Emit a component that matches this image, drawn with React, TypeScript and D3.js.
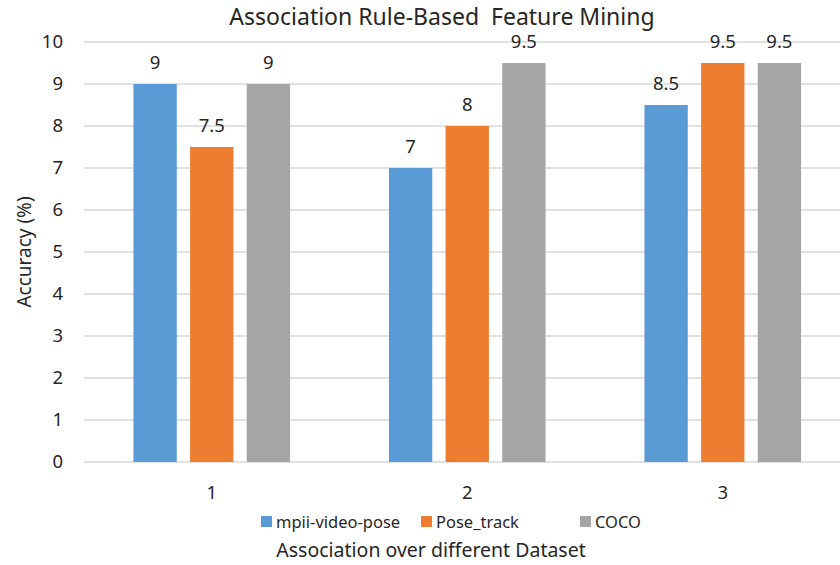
import React, { useEffect, useRef } from 'react';
import * as d3 from 'd3';

const categories = ['1', '2', '3'];
const seriesNames = ['mpii-video-pose', 'Pose_track', 'COCO'];
const seriesColors = ['#5b9bd5', '#ed7d31', '#a5a5a5'];
const mpiiValues = [9, 7, 8.5];
const poseTrackValues = [7.5, 8, 9.5];
const cocoValues = [9, 9.5, 9.5];
const yTicks = [0, 1, 2, 3, 4, 5, 6, 7, 8, 9, 10];

const FONT = '"Noto Sans", "Open Sans", sans-serif';

function App() {
  const ref = useRef<SVGSVGElement>(null);

  useEffect(() => {
    const svg = d3.select(ref.current);
    svg.selectAll('*').remove();

    const width = 840, height = 565;
    const left = 84, right = 850.5, top = 42, bottom = 462;
    const series = [mpiiValues, poseTrackValues, cocoValues];

    const x0 = d3.scaleBand().domain(categories).range([left, right]).paddingInner(0.387).paddingOuter(0.1935);
    const x1 = d3.scaleBand().domain(seriesNames).range([0, x0.bandwidth()]).paddingInner(0.235).paddingOuter(0);
    const y = d3.scaleLinear().domain([0, 10]).range([bottom, top]);

    svg.append('rect').attr('width', width).attr('height', height).attr('fill', '#fff');

    // gridlines
    svg.append('g')
      .selectAll('line')
      .data(yTicks)
      .join('line')
      .attr('x1', left)
      .attr('x2', width)
      .attr('y1', d => y(d))
      .attr('y2', d => y(d))
      .attr('stroke', '#d9d9d9')
      .attr('stroke-width', 1.3);

    // y tick labels
    svg.append('g')
      .selectAll('text')
      .data(yTicks)
      .join('text')
      .attr('x', 63)
      .attr('y', d => y(d))
      .attr('dy', '0.35em')
      .attr('text-anchor', 'end')
      .attr('font-family', FONT)
      .attr('font-size', 18.5)
      .attr('fill', '#262626')
      .text(d => d);

    // bars
    const groups = svg.append('g')
      .selectAll('g')
      .data(categories)
      .join('g')
      .attr('transform', d => `translate(${x0(d)},0)`);

    groups.selectAll('rect')
      .data((c, ci) => seriesNames.map((s, si) => ({ s, si, v: series[si][ci] })))
      .join('rect')
      .attr('x', d => x1(d.s)!)
      .attr('y', d => y(d.v))
      .attr('width', x1.bandwidth())
      .attr('height', d => y(0) - y(d.v))
      .attr('fill', d => seriesColors[d.si]);

    groups.selectAll('text')
      .data((c, ci) => seriesNames.map((s, si) => ({ s, si, v: series[si][ci] })))
      .join('text')
      .attr('x', d => x1(d.s)! + x1.bandwidth() / 2)
      .attr('y', d => y(d.v) - 15)
      .attr('text-anchor', 'middle')
      .attr('font-family', FONT)
      .attr('font-size', 18.5)
      .attr('fill', '#262626')
      .text(d => d.v);

    // x category labels
    svg.append('g')
      .selectAll('text')
      .data(categories)
      .join('text')
      .attr('x', d => x0(d)! + x0.bandwidth() / 2)
      .attr('y', 499)
      .attr('text-anchor', 'middle')
      .attr('font-family', FONT)
      .attr('font-size', 18.5)
      .attr('fill', '#262626')
      .text(d => d);

    // title
    svg.append('text')
      .attr('x', 442)
      .attr('y', 25)
      .attr('text-anchor', 'middle')
      .attr('font-family', FONT)
      .attr('font-size', 23)
      .attr('fill', '#262626')
      .attr('xml:space', 'preserve')
      .style('white-space', 'pre')
      .text('Association Rule-Based  Feature Mining');

    // axis titles
    svg.append('text')
      .attr('x', 431)
      .attr('y', 557)
      .attr('text-anchor', 'middle')
      .attr('font-family', FONT)
      .attr('font-size', 19.5)
      .attr('fill', '#262626')
      .text('Association over different Dataset');

    svg.append('text')
      .attr('transform', 'translate(31,252) rotate(-90)')
      .attr('text-anchor', 'middle')
      .attr('font-family', FONT)
      .attr('font-size', 19)
      .attr('fill', '#262626')
      .text('Accuracy (%)');

    // legend
    const legendX = [261, 421, 580];
    const legend = svg.append('g')
      .selectAll('g')
      .data(seriesNames)
      .join('g')
      .attr('transform', (d, i) => `translate(${legendX[i]},522)`);
    legend.append('rect')
      .attr('x', 0)
      .attr('y', -6)
      .attr('width', 11)
      .attr('height', 11)
      .attr('fill', (d, i) => seriesColors[i]);
    legend.append('text')
      .attr('x', 15)
      .attr('y', 0)
      .attr('dy', '0.35em')
      .attr('font-family', FONT)
      .attr('font-size', 16.5)
      .attr('fill', '#262626')
      .text(d => d);
  }, []);

  return <svg ref={ref} width="840" height="565" style={{ display: 'block', position: 'absolute', left: 0, top: 0 }}></svg>;
}

export default App;
